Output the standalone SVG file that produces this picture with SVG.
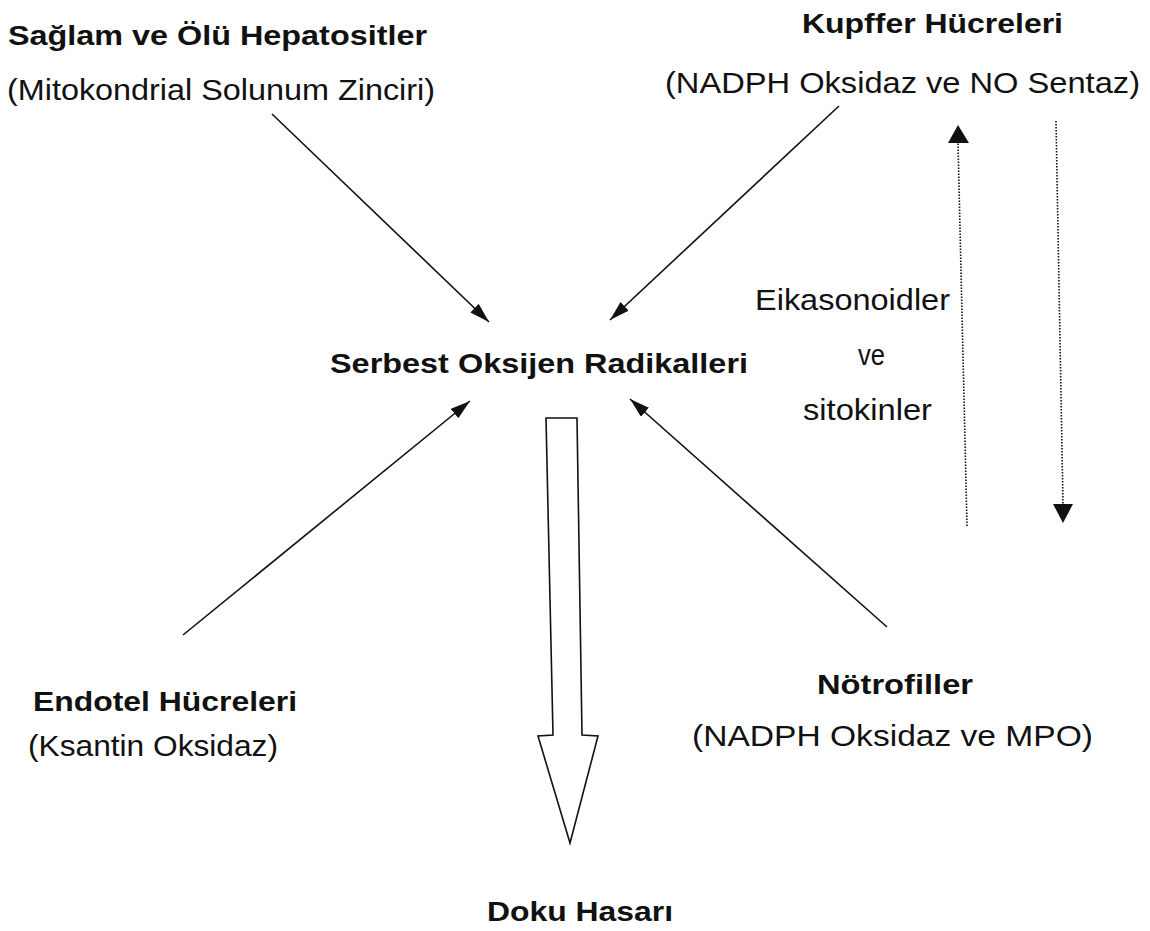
<svg xmlns="http://www.w3.org/2000/svg" width="1150" height="931" viewBox="0 0 1150 931">
<style>
text{font-family:"Liberation Sans",Arial,sans-serif;fill:#111}
.b{font-weight:bold;font-size:28px}
.r{font-size:29px}
.ln{stroke:#111;stroke-width:1.6;fill:none}
.dot{stroke:#111;stroke-width:1.6;fill:none;stroke-dasharray:1.5 1.5}
.hd{fill:#111}
</style>
<defs>
<marker id="ah" viewBox="0 0 20 12" refX="20" refY="6" markerWidth="20" markerHeight="12" markerUnits="userSpaceOnUse" orient="auto">
<path d="M0,0 L20,6 L0,12 Z" fill="#111"/>
</marker>
</defs>
<rect width="1150" height="931" fill="#fff"/>
<g id="hepatositler">
<text class="b" x="8" y="45" textLength="419" lengthAdjust="spacingAndGlyphs">Sağlam ve Ölü Hepatositler</text>
<text class="r" x="7" y="100" textLength="428" lengthAdjust="spacingAndGlyphs">(Mitokondrial Solunum Zinciri)</text>
</g>
<g id="kupffer">
<text class="b" x="802" y="33" textLength="261" lengthAdjust="spacingAndGlyphs">Kupffer Hücreleri</text>
<text class="r" x="665" y="93" textLength="475" lengthAdjust="spacingAndGlyphs">(NADPH Oksidaz ve NO Sentaz)</text>
</g>
<g id="radikaller">
<text class="b" x="330" y="373" textLength="418" lengthAdjust="spacingAndGlyphs">Serbest Oksijen Radikalleri</text>
</g>
<g id="eikasonoidler">
<text class="r" x="755" y="310" textLength="195" lengthAdjust="spacingAndGlyphs">Eikasonoidler</text>
<text class="r" x="858" y="365" textLength="27" lengthAdjust="spacingAndGlyphs">ve</text>
<text class="r" x="803" y="420" textLength="129" lengthAdjust="spacingAndGlyphs">sitokinler</text>
</g>
<g id="endotel">
<text class="b" x="33" y="711" textLength="264" lengthAdjust="spacingAndGlyphs">Endotel Hücreleri</text>
<text class="r" x="28" y="756" textLength="250" lengthAdjust="spacingAndGlyphs">(Ksantin Oksidaz)</text>
</g>
<g id="notrofiller">
<text class="b" x="817" y="694" textLength="156" lengthAdjust="spacingAndGlyphs">Nötrofiller</text>
<text class="r" x="692" y="746" textLength="401" lengthAdjust="spacingAndGlyphs">(NADPH Oksidaz ve MPO)</text>
</g>
<g id="doku">
<text class="b" x="487" y="921" textLength="186" lengthAdjust="spacingAndGlyphs">Doku Hasarı</text>
</g>
<g id="connectors">
<line class="ln" x1="272" y1="114" x2="489" y2="322" marker-end="url(#ah)"/>
<line class="ln" x1="839" y1="106" x2="610" y2="320" marker-end="url(#ah)"/>
<line class="ln" x1="183" y1="635" x2="470" y2="401" marker-end="url(#ah)"/>
<line class="ln" x1="887" y1="627" x2="630" y2="399" marker-end="url(#ah)"/>
<line class="dot" x1="967" y1="526" x2="958" y2="143"/>
<path class="hd" d="M958,125 L969,143 L948,143 Z"/>
<line class="dot" x1="1056" y1="121" x2="1063" y2="504"/>
<path class="hd" d="M1063,523 L1053,504 L1073,504 Z"/>
<path class="ln" d="M546,418 L577,418 L582,735 L598,736 L570,843 L538,736 L553,735 Z"/>
</g>
</svg>
